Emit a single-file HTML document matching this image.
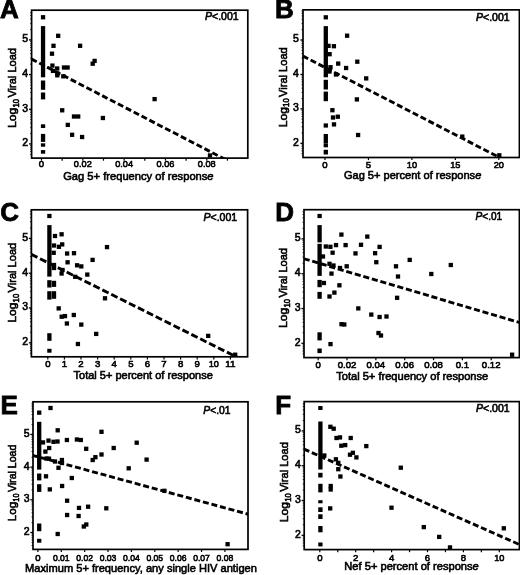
<!DOCTYPE html>
<html><head><meta charset="utf-8"><style>
html,body{margin:0;padding:0;background:#fff;overflow:hidden}
svg{display:block;will-change:transform}
text{font-family:"Liberation Sans", sans-serif;fill:#000;stroke:#000;stroke-width:0.6px}
.lt{stroke-width:0.8px}
</style></head><body>
<svg width="520" height="575" viewBox="0 0 520 575">
<rect x="56.05" y="33.65" width="4.3" height="4.3"/>
<rect x="51.35" y="43.65" width="4.3" height="4.3"/>
<rect x="77.95" y="43.65" width="4.3" height="4.3"/>
<rect x="49.85" y="51.55" width="4.3" height="4.3"/>
<rect x="92.45" y="58.75" width="4.3" height="4.3"/>
<rect x="90.55" y="61.55" width="4.3" height="4.3"/>
<rect x="50.25" y="63.45" width="4.3" height="4.3"/>
<rect x="55.05" y="66.35" width="4.3" height="4.3"/>
<rect x="50.85" y="68.75" width="4.3" height="4.3"/>
<rect x="55.15" y="71.35" width="4.3" height="4.3"/>
<rect x="55.15" y="73.15" width="4.3" height="4.3"/>
<rect x="61.85" y="65.35" width="4.3" height="4.3"/>
<rect x="65.45" y="65.35" width="4.3" height="4.3"/>
<rect x="61.15" y="74.15" width="4.3" height="4.3"/>
<rect x="60.05" y="108.15" width="4.3" height="4.3"/>
<rect x="71.85" y="114.35" width="4.3" height="4.3"/>
<rect x="76.05" y="114.35" width="4.3" height="4.3"/>
<rect x="65.65" y="122.75" width="4.3" height="4.3"/>
<rect x="100.75" y="115.85" width="4.3" height="4.3"/>
<rect x="69.95" y="132.65" width="4.3" height="4.3"/>
<rect x="79.95" y="134.85" width="4.3" height="4.3"/>
<rect x="152.45" y="96.95" width="4.3" height="4.3"/>
<rect x="207.85" y="153.35" width="4.3" height="4.3"/>
<rect x="40.9" y="15.1" width="4.3" height="4.3"/>
<rect x="40.9" y="26.1" width="4.3" height="51.2"/>
<rect x="40.9" y="80.5" width="4.3" height="9.3"/>
<rect x="40.9" y="92.5" width="4.3" height="6.9"/>
<rect x="40.9" y="124.3" width="4.3" height="3.7"/>
<rect x="40.9" y="133.9" width="4.3" height="8"/>
<rect x="40.9" y="143.3" width="4.3" height="3.4"/>
<rect x="40.9" y="150.1" width="4.3" height="3.6"/>
<line x1="31.6" y1="59.1" x2="250" y2="172.2" stroke="#000" stroke-width="2.9" stroke-dasharray="6.0 2.86" stroke-dashoffset="0.25" clip-path="url(#cA)"/>
<clipPath id="cA"><rect x="31.6" y="10.2" width="216.20000000000002" height="147.9"/></clipPath>
<rect x="31.6" y="10.2" width="216.2" height="147.9" fill="none" stroke="#000" stroke-width="1.7"/>
<line x1="29" y1="143.91" x2="31.6" y2="143.91" stroke="#000" stroke-width="1.3"/>
<text x="28.2" y="146.31" text-anchor="end" font-size="10.5">2</text>
<line x1="29" y1="109.24" x2="31.6" y2="109.24" stroke="#000" stroke-width="1.3"/>
<text x="28.2" y="111.64" text-anchor="end" font-size="10.5">3</text>
<line x1="29" y1="74.57" x2="31.6" y2="74.57" stroke="#000" stroke-width="1.3"/>
<text x="28.2" y="76.97" text-anchor="end" font-size="10.5">4</text>
<line x1="29" y1="39.9" x2="31.6" y2="39.9" stroke="#000" stroke-width="1.3"/>
<text x="28.2" y="42.3" text-anchor="end" font-size="10.5">5</text>
<line x1="30.1" y1="154.35" x2="31.6" y2="154.35" stroke="#000" stroke-width="0.8"/>
<line x1="30.1" y1="151.6" x2="31.6" y2="151.6" stroke="#000" stroke-width="0.8"/>
<line x1="30.1" y1="149.28" x2="31.6" y2="149.28" stroke="#000" stroke-width="0.8"/>
<line x1="30.1" y1="147.27" x2="31.6" y2="147.27" stroke="#000" stroke-width="0.8"/>
<line x1="30.1" y1="145.5" x2="31.6" y2="145.5" stroke="#000" stroke-width="0.8"/>
<line x1="30.1" y1="133.47" x2="31.6" y2="133.47" stroke="#000" stroke-width="0.8"/>
<line x1="30.1" y1="127.37" x2="31.6" y2="127.37" stroke="#000" stroke-width="0.8"/>
<line x1="30.1" y1="123.04" x2="31.6" y2="123.04" stroke="#000" stroke-width="0.8"/>
<line x1="30.1" y1="119.68" x2="31.6" y2="119.68" stroke="#000" stroke-width="0.8"/>
<line x1="30.1" y1="116.93" x2="31.6" y2="116.93" stroke="#000" stroke-width="0.8"/>
<line x1="30.1" y1="114.61" x2="31.6" y2="114.61" stroke="#000" stroke-width="0.8"/>
<line x1="30.1" y1="112.6" x2="31.6" y2="112.6" stroke="#000" stroke-width="0.8"/>
<line x1="30.1" y1="110.83" x2="31.6" y2="110.83" stroke="#000" stroke-width="0.8"/>
<line x1="30.1" y1="98.8" x2="31.6" y2="98.8" stroke="#000" stroke-width="0.8"/>
<line x1="30.1" y1="92.7" x2="31.6" y2="92.7" stroke="#000" stroke-width="0.8"/>
<line x1="30.1" y1="88.37" x2="31.6" y2="88.37" stroke="#000" stroke-width="0.8"/>
<line x1="30.1" y1="85.01" x2="31.6" y2="85.01" stroke="#000" stroke-width="0.8"/>
<line x1="30.1" y1="82.26" x2="31.6" y2="82.26" stroke="#000" stroke-width="0.8"/>
<line x1="30.1" y1="79.94" x2="31.6" y2="79.94" stroke="#000" stroke-width="0.8"/>
<line x1="30.1" y1="77.93" x2="31.6" y2="77.93" stroke="#000" stroke-width="0.8"/>
<line x1="30.1" y1="76.16" x2="31.6" y2="76.16" stroke="#000" stroke-width="0.8"/>
<line x1="30.1" y1="64.13" x2="31.6" y2="64.13" stroke="#000" stroke-width="0.8"/>
<line x1="30.1" y1="58.03" x2="31.6" y2="58.03" stroke="#000" stroke-width="0.8"/>
<line x1="30.1" y1="53.7" x2="31.6" y2="53.7" stroke="#000" stroke-width="0.8"/>
<line x1="30.1" y1="50.34" x2="31.6" y2="50.34" stroke="#000" stroke-width="0.8"/>
<line x1="30.1" y1="47.59" x2="31.6" y2="47.59" stroke="#000" stroke-width="0.8"/>
<line x1="30.1" y1="45.27" x2="31.6" y2="45.27" stroke="#000" stroke-width="0.8"/>
<line x1="30.1" y1="43.26" x2="31.6" y2="43.26" stroke="#000" stroke-width="0.8"/>
<line x1="30.1" y1="41.49" x2="31.6" y2="41.49" stroke="#000" stroke-width="0.8"/>
<line x1="30.1" y1="29.46" x2="31.6" y2="29.46" stroke="#000" stroke-width="0.8"/>
<line x1="30.1" y1="23.36" x2="31.6" y2="23.36" stroke="#000" stroke-width="0.8"/>
<line x1="30.1" y1="19.03" x2="31.6" y2="19.03" stroke="#000" stroke-width="0.8"/>
<line x1="30.1" y1="15.67" x2="31.6" y2="15.67" stroke="#000" stroke-width="0.8"/>
<line x1="30.1" y1="12.92" x2="31.6" y2="12.92" stroke="#000" stroke-width="0.8"/>
<line x1="41.5" y1="158.1" x2="41.5" y2="160.7" stroke="#000" stroke-width="1.2"/>
<line x1="62.16" y1="158.1" x2="62.16" y2="160.7" stroke="#000" stroke-width="1.2"/>
<line x1="82.82" y1="158.1" x2="82.82" y2="160.7" stroke="#000" stroke-width="1.2"/>
<line x1="103.48" y1="158.1" x2="103.48" y2="160.7" stroke="#000" stroke-width="1.2"/>
<line x1="124.14" y1="158.1" x2="124.14" y2="160.7" stroke="#000" stroke-width="1.2"/>
<line x1="144.8" y1="158.1" x2="144.8" y2="160.7" stroke="#000" stroke-width="1.2"/>
<line x1="165.46" y1="158.1" x2="165.46" y2="160.7" stroke="#000" stroke-width="1.2"/>
<line x1="186.12" y1="158.1" x2="186.12" y2="160.7" stroke="#000" stroke-width="1.2"/>
<line x1="206.78" y1="158.1" x2="206.78" y2="160.7" stroke="#000" stroke-width="1.2"/>
<line x1="227.44" y1="158.1" x2="227.44" y2="160.7" stroke="#000" stroke-width="1.2"/>
<text x="41.5" y="167" text-anchor="middle" font-size="9.6">0</text>
<text x="82.82" y="167" text-anchor="middle" font-size="9.6" textLength="17.93" lengthAdjust="spacingAndGlyphs">0.02</text>
<text x="124.14" y="167" text-anchor="middle" font-size="9.6" textLength="17.93" lengthAdjust="spacingAndGlyphs">0.04</text>
<text x="165.46" y="167" text-anchor="middle" font-size="9.6" textLength="17.93" lengthAdjust="spacingAndGlyphs">0.06</text>
<text x="206.78" y="167" text-anchor="middle" font-size="9.6" textLength="17.93" lengthAdjust="spacingAndGlyphs">0.08</text>
<text x="63.2" y="179.5" font-size="11" textLength="150.4" lengthAdjust="spacingAndGlyphs">Gag 5+ frequency of respons<tspan font-style="italic">e</tspan></text>
<g transform="translate(16,128) rotate(-90) scale(1,1)"><text x="0" y="0" font-size="11.6" textLength="20.2" lengthAdjust="spacingAndGlyphs">Log</text><text x="20.4" y="2.6" font-size="8.2" textLength="8.6" lengthAdjust="spacingAndGlyphs">10</text><text x="30.4" y="0" font-size="11.6" textLength="49.6" lengthAdjust="spacingAndGlyphs">Viral Load</text></g>
<text x="205" y="19.6" font-size="10.5"><tspan font-style="italic">P</tspan>&lt;.001</text>
<text x="0" y="18.2" font-size="26" font-weight="bold" class="lt">A</text>
<rect x="344.95" y="33.55" width="4.3" height="4.3"/>
<rect x="331.75" y="44.05" width="4.3" height="4.3"/>
<rect x="326.35" y="43.75" width="4.3" height="4.3"/>
<rect x="327.45" y="52.05" width="4.3" height="4.3"/>
<rect x="336.05" y="61.45" width="4.3" height="4.3"/>
<rect x="355.15" y="59.55" width="4.3" height="4.3"/>
<rect x="343.95" y="65.85" width="4.3" height="4.3"/>
<rect x="328.35" y="65.05" width="4.3" height="4.3"/>
<rect x="327.35" y="69.35" width="4.3" height="4.3"/>
<rect x="333.85" y="72.35" width="4.3" height="4.3"/>
<rect x="364.05" y="76.25" width="4.3" height="4.3"/>
<rect x="330.25" y="108.05" width="4.3" height="4.3"/>
<rect x="330.85" y="115.35" width="4.3" height="4.3"/>
<rect x="335.65" y="114.55" width="4.3" height="4.3"/>
<rect x="331.85" y="122.25" width="4.3" height="4.3"/>
<rect x="354.75" y="97.25" width="4.3" height="4.3"/>
<rect x="355.95" y="132.85" width="4.3" height="4.3"/>
<rect x="460.15" y="134.45" width="4.3" height="4.3"/>
<rect x="497.15" y="153.15" width="4.3" height="4.3"/>
<rect x="323.65" y="15.2" width="4.3" height="4.2"/>
<rect x="323.65" y="26.1" width="4.3" height="51.2"/>
<rect x="323.65" y="79.8" width="4.3" height="9.7"/>
<rect x="323.65" y="91.6" width="4.3" height="9.6"/>
<rect x="323.65" y="123.4" width="4.3" height="4.2"/>
<rect x="323.65" y="134" width="4.3" height="9.5"/>
<rect x="323.65" y="143.5" width="4.3" height="3.8"/>
<rect x="323.65" y="149.8" width="4.3" height="4.7"/>
<line x1="303" y1="56.1" x2="520" y2="168.1" stroke="#000" stroke-width="2.9" stroke-dasharray="6.0 2.84" stroke-dashoffset="0.25" clip-path="url(#cB)"/>
<clipPath id="cB"><rect x="303" y="9.85" width="216.39999999999998" height="147.65"/></clipPath>
<rect x="303" y="9.85" width="216.4" height="147.65" fill="none" stroke="#000" stroke-width="1.7"/>
<line x1="300.4" y1="143.29" x2="303" y2="143.29" stroke="#000" stroke-width="1.3"/>
<text x="298.8" y="145.69" text-anchor="end" font-size="10.5">2</text>
<line x1="300.4" y1="108.86" x2="303" y2="108.86" stroke="#000" stroke-width="1.3"/>
<text x="298.8" y="111.26" text-anchor="end" font-size="10.5">3</text>
<line x1="300.4" y1="74.43" x2="303" y2="74.43" stroke="#000" stroke-width="1.3"/>
<text x="298.8" y="76.83" text-anchor="end" font-size="10.5">4</text>
<line x1="300.4" y1="40" x2="303" y2="40" stroke="#000" stroke-width="1.3"/>
<text x="298.8" y="42.4" text-anchor="end" font-size="10.5">5</text>
<line x1="301.5" y1="153.65" x2="303" y2="153.65" stroke="#000" stroke-width="0.8"/>
<line x1="301.5" y1="150.93" x2="303" y2="150.93" stroke="#000" stroke-width="0.8"/>
<line x1="301.5" y1="148.62" x2="303" y2="148.62" stroke="#000" stroke-width="0.8"/>
<line x1="301.5" y1="146.63" x2="303" y2="146.63" stroke="#000" stroke-width="0.8"/>
<line x1="301.5" y1="144.87" x2="303" y2="144.87" stroke="#000" stroke-width="0.8"/>
<line x1="301.5" y1="132.93" x2="303" y2="132.93" stroke="#000" stroke-width="0.8"/>
<line x1="301.5" y1="126.86" x2="303" y2="126.86" stroke="#000" stroke-width="0.8"/>
<line x1="301.5" y1="122.56" x2="303" y2="122.56" stroke="#000" stroke-width="0.8"/>
<line x1="301.5" y1="119.22" x2="303" y2="119.22" stroke="#000" stroke-width="0.8"/>
<line x1="301.5" y1="116.5" x2="303" y2="116.5" stroke="#000" stroke-width="0.8"/>
<line x1="301.5" y1="114.19" x2="303" y2="114.19" stroke="#000" stroke-width="0.8"/>
<line x1="301.5" y1="112.2" x2="303" y2="112.2" stroke="#000" stroke-width="0.8"/>
<line x1="301.5" y1="110.44" x2="303" y2="110.44" stroke="#000" stroke-width="0.8"/>
<line x1="301.5" y1="98.5" x2="303" y2="98.5" stroke="#000" stroke-width="0.8"/>
<line x1="301.5" y1="92.43" x2="303" y2="92.43" stroke="#000" stroke-width="0.8"/>
<line x1="301.5" y1="88.13" x2="303" y2="88.13" stroke="#000" stroke-width="0.8"/>
<line x1="301.5" y1="84.79" x2="303" y2="84.79" stroke="#000" stroke-width="0.8"/>
<line x1="301.5" y1="82.07" x2="303" y2="82.07" stroke="#000" stroke-width="0.8"/>
<line x1="301.5" y1="79.76" x2="303" y2="79.76" stroke="#000" stroke-width="0.8"/>
<line x1="301.5" y1="77.77" x2="303" y2="77.77" stroke="#000" stroke-width="0.8"/>
<line x1="301.5" y1="76.01" x2="303" y2="76.01" stroke="#000" stroke-width="0.8"/>
<line x1="301.5" y1="64.07" x2="303" y2="64.07" stroke="#000" stroke-width="0.8"/>
<line x1="301.5" y1="58" x2="303" y2="58" stroke="#000" stroke-width="0.8"/>
<line x1="301.5" y1="53.7" x2="303" y2="53.7" stroke="#000" stroke-width="0.8"/>
<line x1="301.5" y1="50.36" x2="303" y2="50.36" stroke="#000" stroke-width="0.8"/>
<line x1="301.5" y1="47.64" x2="303" y2="47.64" stroke="#000" stroke-width="0.8"/>
<line x1="301.5" y1="45.33" x2="303" y2="45.33" stroke="#000" stroke-width="0.8"/>
<line x1="301.5" y1="43.34" x2="303" y2="43.34" stroke="#000" stroke-width="0.8"/>
<line x1="301.5" y1="41.58" x2="303" y2="41.58" stroke="#000" stroke-width="0.8"/>
<line x1="301.5" y1="29.64" x2="303" y2="29.64" stroke="#000" stroke-width="0.8"/>
<line x1="301.5" y1="23.57" x2="303" y2="23.57" stroke="#000" stroke-width="0.8"/>
<line x1="301.5" y1="19.27" x2="303" y2="19.27" stroke="#000" stroke-width="0.8"/>
<line x1="301.5" y1="15.93" x2="303" y2="15.93" stroke="#000" stroke-width="0.8"/>
<line x1="301.5" y1="13.21" x2="303" y2="13.21" stroke="#000" stroke-width="0.8"/>
<line x1="301.5" y1="10.9" x2="303" y2="10.9" stroke="#000" stroke-width="0.8"/>
<line x1="325" y1="157.5" x2="325" y2="160.1" stroke="#000" stroke-width="1.2"/>
<line x1="368.45" y1="157.5" x2="368.45" y2="160.1" stroke="#000" stroke-width="1.2"/>
<line x1="411.9" y1="157.5" x2="411.9" y2="160.1" stroke="#000" stroke-width="1.2"/>
<line x1="455.35" y1="157.5" x2="455.35" y2="160.1" stroke="#000" stroke-width="1.2"/>
<line x1="498.8" y1="157.5" x2="498.8" y2="160.1" stroke="#000" stroke-width="1.2"/>
<text x="325" y="167.8" text-anchor="middle" font-size="9.6">0</text>
<text x="368.45" y="167.8" text-anchor="middle" font-size="9.6">5</text>
<text x="411.9" y="167.8" text-anchor="middle" font-size="9.6" textLength="10.25" lengthAdjust="spacingAndGlyphs">10</text>
<text x="455.35" y="167.8" text-anchor="middle" font-size="9.6" textLength="10.25" lengthAdjust="spacingAndGlyphs">15</text>
<text x="498.8" y="167.8" text-anchor="middle" font-size="9.6" textLength="10.25" lengthAdjust="spacingAndGlyphs">20</text>
<text x="343.9" y="178.6" font-size="11" textLength="137.4" lengthAdjust="spacingAndGlyphs">Gag 5+ percent of respons<tspan font-style="italic">e</tspan></text>
<g transform="translate(286.5,127.3) rotate(-90) scale(1,1)"><text x="0" y="0" font-size="11.6" textLength="20.2" lengthAdjust="spacingAndGlyphs">Log</text><text x="20.4" y="2.6" font-size="8.2" textLength="8.6" lengthAdjust="spacingAndGlyphs">10</text><text x="30.4" y="0" font-size="11.6" textLength="49.6" lengthAdjust="spacingAndGlyphs">Viral Load</text></g>
<text x="476" y="21" font-size="10.5"><tspan font-style="italic">P</tspan>&lt;.001</text>
<text x="275" y="18.3" font-size="26" font-weight="bold" class="lt">B</text>
<rect x="52.85" y="233.85" width="4.3" height="4.3"/>
<rect x="59.45" y="232.15" width="4.3" height="4.3"/>
<rect x="51.85" y="243.35" width="4.3" height="4.3"/>
<rect x="56.75" y="244.65" width="4.3" height="4.3"/>
<rect x="60.05" y="242.25" width="4.3" height="4.3"/>
<rect x="51.55" y="250.65" width="4.3" height="4.3"/>
<rect x="64.95" y="251.35" width="4.3" height="4.3"/>
<rect x="71.85" y="251.05" width="4.3" height="4.3"/>
<rect x="65.45" y="260.15" width="4.3" height="4.3"/>
<rect x="74.95" y="263.15" width="4.3" height="4.3"/>
<rect x="79.15" y="264.25" width="4.3" height="4.3"/>
<rect x="51.85" y="262.85" width="4.3" height="4.3"/>
<rect x="51.85" y="265.85" width="4.3" height="4.3"/>
<rect x="60.35" y="267.85" width="4.3" height="4.3"/>
<rect x="59.45" y="271.35" width="4.3" height="4.3"/>
<rect x="85.15" y="272.45" width="4.3" height="4.3"/>
<rect x="104.85" y="244.95" width="4.3" height="4.3"/>
<rect x="90.45" y="257.75" width="4.3" height="4.3"/>
<rect x="102.85" y="296.15" width="4.3" height="4.3"/>
<rect x="56.55" y="306.25" width="4.3" height="4.3"/>
<rect x="59.55" y="314.55" width="4.3" height="4.3"/>
<rect x="62.85" y="313.95" width="4.3" height="4.3"/>
<rect x="71.65" y="312.85" width="4.3" height="4.3"/>
<rect x="64.75" y="321.35" width="4.3" height="4.3"/>
<rect x="79.15" y="322.45" width="4.3" height="4.3"/>
<rect x="94.05" y="331.75" width="4.3" height="4.3"/>
<rect x="75.75" y="341.85" width="4.3" height="4.3"/>
<rect x="206.05" y="333.75" width="4.3" height="4.3"/>
<rect x="233.05" y="352.55" width="4.3" height="4.3"/>
<rect x="73.05" y="274.65" width="4.3" height="4.3"/>
<rect x="47.25" y="213.9" width="4.3" height="4.2"/>
<rect x="47.25" y="225.1" width="4.3" height="51.5"/>
<rect x="47.25" y="280.2" width="4.3" height="7.3"/>
<rect x="47.25" y="291.2" width="4.3" height="8.4"/>
<rect x="47.25" y="333.2" width="4.3" height="7.6"/>
<rect x="47.25" y="348.8" width="4.3" height="3.9"/>
<rect x="51.85" y="280.8" width="4.3" height="6.1"/>
<rect x="51.85" y="291.2" width="4.3" height="7.6"/>
<line x1="31.3" y1="254.35" x2="250" y2="363.7" stroke="#000" stroke-width="2.9" stroke-dasharray="7.0 2.95" stroke-dashoffset="0.2" clip-path="url(#cC)"/>
<clipPath id="cC"><rect x="31.4" y="209.8" width="216.2" height="147.0"/></clipPath>
<rect x="31.4" y="209.8" width="216.2" height="147" fill="none" stroke="#000" stroke-width="1.7"/>
<line x1="28.8" y1="342.8" x2="31.4" y2="342.8" stroke="#000" stroke-width="1.3"/>
<text x="28" y="345.2" text-anchor="end" font-size="10.5">2</text>
<line x1="28.8" y1="308" x2="31.4" y2="308" stroke="#000" stroke-width="1.3"/>
<text x="28" y="310.4" text-anchor="end" font-size="10.5">3</text>
<line x1="28.8" y1="273.2" x2="31.4" y2="273.2" stroke="#000" stroke-width="1.3"/>
<text x="28" y="275.6" text-anchor="end" font-size="10.5">4</text>
<line x1="28.8" y1="238.4" x2="31.4" y2="238.4" stroke="#000" stroke-width="1.3"/>
<text x="28" y="240.8" text-anchor="end" font-size="10.5">5</text>
<line x1="29.9" y1="353.28" x2="31.4" y2="353.28" stroke="#000" stroke-width="0.8"/>
<line x1="29.9" y1="350.52" x2="31.4" y2="350.52" stroke="#000" stroke-width="0.8"/>
<line x1="29.9" y1="348.19" x2="31.4" y2="348.19" stroke="#000" stroke-width="0.8"/>
<line x1="29.9" y1="346.17" x2="31.4" y2="346.17" stroke="#000" stroke-width="0.8"/>
<line x1="29.9" y1="344.39" x2="31.4" y2="344.39" stroke="#000" stroke-width="0.8"/>
<line x1="29.9" y1="332.32" x2="31.4" y2="332.32" stroke="#000" stroke-width="0.8"/>
<line x1="29.9" y1="326.2" x2="31.4" y2="326.2" stroke="#000" stroke-width="0.8"/>
<line x1="29.9" y1="321.85" x2="31.4" y2="321.85" stroke="#000" stroke-width="0.8"/>
<line x1="29.9" y1="318.48" x2="31.4" y2="318.48" stroke="#000" stroke-width="0.8"/>
<line x1="29.9" y1="315.72" x2="31.4" y2="315.72" stroke="#000" stroke-width="0.8"/>
<line x1="29.9" y1="313.39" x2="31.4" y2="313.39" stroke="#000" stroke-width="0.8"/>
<line x1="29.9" y1="311.37" x2="31.4" y2="311.37" stroke="#000" stroke-width="0.8"/>
<line x1="29.9" y1="309.59" x2="31.4" y2="309.59" stroke="#000" stroke-width="0.8"/>
<line x1="29.9" y1="297.52" x2="31.4" y2="297.52" stroke="#000" stroke-width="0.8"/>
<line x1="29.9" y1="291.4" x2="31.4" y2="291.4" stroke="#000" stroke-width="0.8"/>
<line x1="29.9" y1="287.05" x2="31.4" y2="287.05" stroke="#000" stroke-width="0.8"/>
<line x1="29.9" y1="283.68" x2="31.4" y2="283.68" stroke="#000" stroke-width="0.8"/>
<line x1="29.9" y1="280.92" x2="31.4" y2="280.92" stroke="#000" stroke-width="0.8"/>
<line x1="29.9" y1="278.59" x2="31.4" y2="278.59" stroke="#000" stroke-width="0.8"/>
<line x1="29.9" y1="276.57" x2="31.4" y2="276.57" stroke="#000" stroke-width="0.8"/>
<line x1="29.9" y1="274.79" x2="31.4" y2="274.79" stroke="#000" stroke-width="0.8"/>
<line x1="29.9" y1="262.72" x2="31.4" y2="262.72" stroke="#000" stroke-width="0.8"/>
<line x1="29.9" y1="256.6" x2="31.4" y2="256.6" stroke="#000" stroke-width="0.8"/>
<line x1="29.9" y1="252.25" x2="31.4" y2="252.25" stroke="#000" stroke-width="0.8"/>
<line x1="29.9" y1="248.88" x2="31.4" y2="248.88" stroke="#000" stroke-width="0.8"/>
<line x1="29.9" y1="246.12" x2="31.4" y2="246.12" stroke="#000" stroke-width="0.8"/>
<line x1="29.9" y1="243.79" x2="31.4" y2="243.79" stroke="#000" stroke-width="0.8"/>
<line x1="29.9" y1="241.77" x2="31.4" y2="241.77" stroke="#000" stroke-width="0.8"/>
<line x1="29.9" y1="239.99" x2="31.4" y2="239.99" stroke="#000" stroke-width="0.8"/>
<line x1="29.9" y1="227.92" x2="31.4" y2="227.92" stroke="#000" stroke-width="0.8"/>
<line x1="29.9" y1="221.8" x2="31.4" y2="221.8" stroke="#000" stroke-width="0.8"/>
<line x1="29.9" y1="217.45" x2="31.4" y2="217.45" stroke="#000" stroke-width="0.8"/>
<line x1="29.9" y1="214.08" x2="31.4" y2="214.08" stroke="#000" stroke-width="0.8"/>
<line x1="29.9" y1="211.32" x2="31.4" y2="211.32" stroke="#000" stroke-width="0.8"/>
<line x1="47.8" y1="356.8" x2="47.8" y2="359.4" stroke="#000" stroke-width="1.2"/>
<line x1="64.4" y1="356.8" x2="64.4" y2="359.4" stroke="#000" stroke-width="1.2"/>
<line x1="81" y1="356.8" x2="81" y2="359.4" stroke="#000" stroke-width="1.2"/>
<line x1="97.6" y1="356.8" x2="97.6" y2="359.4" stroke="#000" stroke-width="1.2"/>
<line x1="114.2" y1="356.8" x2="114.2" y2="359.4" stroke="#000" stroke-width="1.2"/>
<line x1="130.8" y1="356.8" x2="130.8" y2="359.4" stroke="#000" stroke-width="1.2"/>
<line x1="147.4" y1="356.8" x2="147.4" y2="359.4" stroke="#000" stroke-width="1.2"/>
<line x1="164" y1="356.8" x2="164" y2="359.4" stroke="#000" stroke-width="1.2"/>
<line x1="180.6" y1="356.8" x2="180.6" y2="359.4" stroke="#000" stroke-width="1.2"/>
<line x1="197.2" y1="356.8" x2="197.2" y2="359.4" stroke="#000" stroke-width="1.2"/>
<line x1="213.8" y1="356.8" x2="213.8" y2="359.4" stroke="#000" stroke-width="1.2"/>
<line x1="230.4" y1="356.8" x2="230.4" y2="359.4" stroke="#000" stroke-width="1.2"/>
<text x="47.8" y="366.9" text-anchor="middle" font-size="9.6">0</text>
<text x="64.4" y="366.9" text-anchor="middle" font-size="9.6">1</text>
<text x="81" y="366.9" text-anchor="middle" font-size="9.6">2</text>
<text x="97.6" y="366.9" text-anchor="middle" font-size="9.6">3</text>
<text x="114.2" y="366.9" text-anchor="middle" font-size="9.6">4</text>
<text x="130.8" y="366.9" text-anchor="middle" font-size="9.6">5</text>
<text x="147.4" y="366.9" text-anchor="middle" font-size="9.6">6</text>
<text x="164" y="366.9" text-anchor="middle" font-size="9.6">7</text>
<text x="180.6" y="366.9" text-anchor="middle" font-size="9.6">8</text>
<text x="197.2" y="366.9" text-anchor="middle" font-size="9.6">9</text>
<text x="213.8" y="366.9" text-anchor="middle" font-size="9.6" textLength="10.25" lengthAdjust="spacingAndGlyphs">10</text>
<text x="230.4" y="366.9" text-anchor="middle" font-size="9.6" textLength="10.25" lengthAdjust="spacingAndGlyphs">11</text>
<text x="73.5" y="378.6" font-size="11" textLength="139.3" lengthAdjust="spacingAndGlyphs">Total 5+ percent of response</text>
<g transform="translate(16,322.8) rotate(-90) scale(1,1)"><text x="0" y="0" font-size="11.6" textLength="20.2" lengthAdjust="spacingAndGlyphs">Log</text><text x="20.4" y="2.6" font-size="8.2" textLength="8.6" lengthAdjust="spacingAndGlyphs">10</text><text x="30.4" y="0" font-size="11.6" textLength="49.6" lengthAdjust="spacingAndGlyphs">Viral Load</text></g>
<text x="203.5" y="220.5" font-size="10.5"><tspan font-style="italic">P</tspan>&lt;.001</text>
<text x="0.3" y="221" font-size="26" font-weight="bold" class="lt">C</text>
<rect x="339.25" y="232.45" width="4.3" height="4.3"/>
<rect x="365.15" y="234.45" width="4.3" height="4.3"/>
<rect x="323.65" y="244.35" width="4.3" height="4.3"/>
<rect x="328.25" y="244.65" width="4.3" height="4.3"/>
<rect x="333.85" y="242.95" width="4.3" height="4.3"/>
<rect x="343.45" y="242.95" width="4.3" height="4.3"/>
<rect x="358.85" y="242.65" width="4.3" height="4.3"/>
<rect x="377.45" y="244.75" width="4.3" height="4.3"/>
<rect x="330.45" y="250.55" width="4.3" height="4.3"/>
<rect x="353.35" y="251.25" width="4.3" height="4.3"/>
<rect x="372.95" y="251.05" width="4.3" height="4.3"/>
<rect x="320.85" y="254.35" width="4.3" height="4.3"/>
<rect x="374.15" y="260.05" width="4.3" height="4.3"/>
<rect x="407.55" y="257.75" width="4.3" height="4.3"/>
<rect x="393.85" y="264.15" width="4.3" height="4.3"/>
<rect x="327.35" y="261.65" width="4.3" height="4.3"/>
<rect x="331.35" y="263.35" width="4.3" height="4.3"/>
<rect x="337.85" y="265.85" width="4.3" height="4.3"/>
<rect x="344.55" y="264.15" width="4.3" height="4.3"/>
<rect x="329.35" y="271.45" width="4.3" height="4.3"/>
<rect x="395.85" y="274.35" width="4.3" height="4.3"/>
<rect x="321.75" y="280.85" width="4.3" height="4.3"/>
<rect x="337.25" y="283.15" width="4.3" height="4.3"/>
<rect x="327.35" y="294.35" width="4.3" height="4.3"/>
<rect x="332.25" y="290.45" width="4.3" height="4.3"/>
<rect x="394.95" y="295.65" width="4.3" height="4.3"/>
<rect x="356.15" y="306.25" width="4.3" height="4.3"/>
<rect x="369.15" y="312.45" width="4.3" height="4.3"/>
<rect x="377.45" y="314.85" width="4.3" height="4.3"/>
<rect x="384.35" y="314.35" width="4.3" height="4.3"/>
<rect x="339.35" y="322.05" width="4.3" height="4.3"/>
<rect x="342.15" y="322.35" width="4.3" height="4.3"/>
<rect x="376.35" y="330.85" width="4.3" height="4.3"/>
<rect x="378.85" y="333.35" width="4.3" height="4.3"/>
<rect x="328.35" y="341.95" width="4.3" height="4.3"/>
<rect x="429.15" y="271.85" width="4.3" height="4.3"/>
<rect x="448.65" y="262.85" width="4.3" height="4.3"/>
<rect x="509.95" y="352.55" width="4.3" height="4.3"/>
<rect x="317.45" y="213.9" width="4.3" height="4.2"/>
<rect x="317.45" y="225.1" width="4.3" height="17.3"/>
<rect x="317.45" y="243.8" width="4.3" height="32.1"/>
<rect x="317.45" y="279.9" width="4.3" height="7.3"/>
<rect x="317.45" y="291.9" width="4.3" height="6.9"/>
<rect x="317.45" y="332.3" width="4.3" height="8.1"/>
<rect x="317.45" y="348.5" width="4.3" height="4.6"/>
<line x1="304" y1="258.8" x2="520" y2="322.7" stroke="#000" stroke-width="2.9" stroke-dasharray="6.1 2.78" stroke-dashoffset="0.3" clip-path="url(#cD)"/>
<clipPath id="cD"><rect x="304" y="209.7" width="215.39999999999998" height="147.90000000000003"/></clipPath>
<rect x="304" y="209.7" width="215.4" height="147.9" fill="none" stroke="#000" stroke-width="1.7"/>
<line x1="301.4" y1="343.3" x2="304" y2="343.3" stroke="#000" stroke-width="1.3"/>
<text x="300.6" y="345.7" text-anchor="end" font-size="10.5">2</text>
<line x1="301.4" y1="308.5" x2="304" y2="308.5" stroke="#000" stroke-width="1.3"/>
<text x="300.6" y="310.9" text-anchor="end" font-size="10.5">3</text>
<line x1="301.4" y1="273.7" x2="304" y2="273.7" stroke="#000" stroke-width="1.3"/>
<text x="300.6" y="276.1" text-anchor="end" font-size="10.5">4</text>
<line x1="301.4" y1="238.9" x2="304" y2="238.9" stroke="#000" stroke-width="1.3"/>
<text x="300.6" y="241.3" text-anchor="end" font-size="10.5">5</text>
<line x1="302.5" y1="353.78" x2="304" y2="353.78" stroke="#000" stroke-width="0.8"/>
<line x1="302.5" y1="351.02" x2="304" y2="351.02" stroke="#000" stroke-width="0.8"/>
<line x1="302.5" y1="348.69" x2="304" y2="348.69" stroke="#000" stroke-width="0.8"/>
<line x1="302.5" y1="346.67" x2="304" y2="346.67" stroke="#000" stroke-width="0.8"/>
<line x1="302.5" y1="344.89" x2="304" y2="344.89" stroke="#000" stroke-width="0.8"/>
<line x1="302.5" y1="332.82" x2="304" y2="332.82" stroke="#000" stroke-width="0.8"/>
<line x1="302.5" y1="326.7" x2="304" y2="326.7" stroke="#000" stroke-width="0.8"/>
<line x1="302.5" y1="322.35" x2="304" y2="322.35" stroke="#000" stroke-width="0.8"/>
<line x1="302.5" y1="318.98" x2="304" y2="318.98" stroke="#000" stroke-width="0.8"/>
<line x1="302.5" y1="316.22" x2="304" y2="316.22" stroke="#000" stroke-width="0.8"/>
<line x1="302.5" y1="313.89" x2="304" y2="313.89" stroke="#000" stroke-width="0.8"/>
<line x1="302.5" y1="311.87" x2="304" y2="311.87" stroke="#000" stroke-width="0.8"/>
<line x1="302.5" y1="310.09" x2="304" y2="310.09" stroke="#000" stroke-width="0.8"/>
<line x1="302.5" y1="298.02" x2="304" y2="298.02" stroke="#000" stroke-width="0.8"/>
<line x1="302.5" y1="291.9" x2="304" y2="291.9" stroke="#000" stroke-width="0.8"/>
<line x1="302.5" y1="287.55" x2="304" y2="287.55" stroke="#000" stroke-width="0.8"/>
<line x1="302.5" y1="284.18" x2="304" y2="284.18" stroke="#000" stroke-width="0.8"/>
<line x1="302.5" y1="281.42" x2="304" y2="281.42" stroke="#000" stroke-width="0.8"/>
<line x1="302.5" y1="279.09" x2="304" y2="279.09" stroke="#000" stroke-width="0.8"/>
<line x1="302.5" y1="277.07" x2="304" y2="277.07" stroke="#000" stroke-width="0.8"/>
<line x1="302.5" y1="275.29" x2="304" y2="275.29" stroke="#000" stroke-width="0.8"/>
<line x1="302.5" y1="263.22" x2="304" y2="263.22" stroke="#000" stroke-width="0.8"/>
<line x1="302.5" y1="257.1" x2="304" y2="257.1" stroke="#000" stroke-width="0.8"/>
<line x1="302.5" y1="252.75" x2="304" y2="252.75" stroke="#000" stroke-width="0.8"/>
<line x1="302.5" y1="249.38" x2="304" y2="249.38" stroke="#000" stroke-width="0.8"/>
<line x1="302.5" y1="246.62" x2="304" y2="246.62" stroke="#000" stroke-width="0.8"/>
<line x1="302.5" y1="244.29" x2="304" y2="244.29" stroke="#000" stroke-width="0.8"/>
<line x1="302.5" y1="242.27" x2="304" y2="242.27" stroke="#000" stroke-width="0.8"/>
<line x1="302.5" y1="240.49" x2="304" y2="240.49" stroke="#000" stroke-width="0.8"/>
<line x1="302.5" y1="228.42" x2="304" y2="228.42" stroke="#000" stroke-width="0.8"/>
<line x1="302.5" y1="222.3" x2="304" y2="222.3" stroke="#000" stroke-width="0.8"/>
<line x1="302.5" y1="217.95" x2="304" y2="217.95" stroke="#000" stroke-width="0.8"/>
<line x1="302.5" y1="214.58" x2="304" y2="214.58" stroke="#000" stroke-width="0.8"/>
<line x1="302.5" y1="211.82" x2="304" y2="211.82" stroke="#000" stroke-width="0.8"/>
<line x1="318.2" y1="357.6" x2="318.2" y2="360.2" stroke="#000" stroke-width="1.2"/>
<line x1="347.03" y1="357.6" x2="347.03" y2="360.2" stroke="#000" stroke-width="1.2"/>
<line x1="375.87" y1="357.6" x2="375.87" y2="360.2" stroke="#000" stroke-width="1.2"/>
<line x1="404.7" y1="357.6" x2="404.7" y2="360.2" stroke="#000" stroke-width="1.2"/>
<line x1="433.54" y1="357.6" x2="433.54" y2="360.2" stroke="#000" stroke-width="1.2"/>
<line x1="462.37" y1="357.6" x2="462.37" y2="360.2" stroke="#000" stroke-width="1.2"/>
<line x1="491.2" y1="357.6" x2="491.2" y2="360.2" stroke="#000" stroke-width="1.2"/>
<text x="318.2" y="367.6" text-anchor="middle" font-size="9.6">0</text>
<text x="347.03" y="367.6" text-anchor="middle" font-size="9.6" textLength="18.68" lengthAdjust="spacingAndGlyphs">0.02</text>
<text x="375.87" y="367.6" text-anchor="middle" font-size="9.6" textLength="18.68" lengthAdjust="spacingAndGlyphs">0.04</text>
<text x="404.7" y="367.6" text-anchor="middle" font-size="9.6" textLength="18.68" lengthAdjust="spacingAndGlyphs">0.06</text>
<text x="433.54" y="367.6" text-anchor="middle" font-size="9.6" textLength="18.68" lengthAdjust="spacingAndGlyphs">0.08</text>
<text x="462.37" y="367.6" text-anchor="middle" font-size="9.6" textLength="13.34" lengthAdjust="spacingAndGlyphs">0.1</text>
<text x="491.2" y="367.6" text-anchor="middle" font-size="9.6" textLength="18.68" lengthAdjust="spacingAndGlyphs">0.12</text>
<text x="336.2" y="380.2" font-size="11" textLength="152" lengthAdjust="spacingAndGlyphs">Total 5+ frequency of response</text>
<g transform="translate(287,328) rotate(-90) scale(1,1)"><text x="0" y="0" font-size="11.6" textLength="20.2" lengthAdjust="spacingAndGlyphs">Log</text><text x="20.4" y="2.6" font-size="8.2" textLength="8.6" lengthAdjust="spacingAndGlyphs">10</text><text x="30.4" y="0" font-size="11.6" textLength="49.6" lengthAdjust="spacingAndGlyphs">Viral Load</text></g>
<text x="475.6" y="220" font-size="10.5" textLength="26.6" lengthAdjust="spacingAndGlyphs"><tspan font-style="italic">P</tspan>&lt;.01</text>
<text x="275.2" y="220.9" font-size="26" font-weight="bold" class="lt">D</text>
<rect x="48.35" y="405.85" width="4.3" height="4.3"/>
<rect x="55.55" y="428.15" width="4.3" height="4.3"/>
<rect x="99.35" y="429.65" width="4.3" height="4.3"/>
<rect x="64.75" y="437.85" width="4.3" height="4.3"/>
<rect x="74.75" y="437.35" width="4.3" height="4.3"/>
<rect x="78.65" y="437.85" width="4.3" height="4.3"/>
<rect x="46.35" y="438.45" width="4.3" height="4.3"/>
<rect x="51.35" y="439.65" width="4.3" height="4.3"/>
<rect x="55.35" y="439.35" width="4.3" height="4.3"/>
<rect x="40.85" y="440.25" width="4.3" height="4.3"/>
<rect x="47.05" y="445.85" width="4.3" height="4.3"/>
<rect x="43.25" y="449.45" width="4.3" height="4.3"/>
<rect x="84.05" y="446.65" width="4.3" height="4.3"/>
<rect x="99.35" y="452.35" width="4.3" height="4.3"/>
<rect x="90.55" y="457.85" width="4.3" height="4.3"/>
<rect x="93.25" y="455.05" width="4.3" height="4.3"/>
<rect x="44.35" y="456.35" width="4.3" height="4.3"/>
<rect x="46.85" y="456.55" width="4.3" height="4.3"/>
<rect x="52.85" y="459.35" width="4.3" height="4.3"/>
<rect x="59.75" y="457.85" width="4.3" height="4.3"/>
<rect x="59.85" y="460.85" width="4.3" height="4.3"/>
<rect x="56.35" y="465.65" width="4.3" height="4.3"/>
<rect x="43.85" y="474.15" width="4.3" height="4.3"/>
<rect x="111.55" y="445.85" width="4.3" height="4.3"/>
<rect x="134.55" y="440.55" width="4.3" height="4.3"/>
<rect x="144.45" y="457.45" width="4.3" height="4.3"/>
<rect x="126.55" y="466.15" width="4.3" height="4.3"/>
<rect x="104.15" y="506.15" width="4.3" height="4.3"/>
<rect x="162.25" y="488.65" width="4.3" height="4.3"/>
<rect x="225.45" y="542.05" width="4.3" height="4.3"/>
<rect x="69.65" y="475.85" width="4.3" height="4.3"/>
<rect x="59.95" y="483.85" width="4.3" height="4.3"/>
<rect x="47.65" y="487.25" width="4.3" height="4.3"/>
<rect x="64.95" y="498.55" width="4.3" height="4.3"/>
<rect x="76.85" y="505.75" width="4.3" height="4.3"/>
<rect x="85.95" y="504.55" width="4.3" height="4.3"/>
<rect x="64.95" y="512.85" width="4.3" height="4.3"/>
<rect x="76.45" y="513.85" width="4.3" height="4.3"/>
<rect x="81.65" y="524.35" width="4.3" height="4.3"/>
<rect x="84.15" y="522.35" width="4.3" height="4.3"/>
<rect x="55.55" y="531.85" width="4.3" height="4.3"/>
<rect x="37.05" y="410.5" width="4.3" height="4.3"/>
<rect x="37.05" y="421.8" width="4.3" height="47.8"/>
<rect x="37.05" y="473.5" width="4.3" height="6.9"/>
<rect x="37.05" y="484.2" width="4.3" height="7.7"/>
<rect x="37.05" y="523.5" width="4.3" height="7.7"/>
<rect x="37.05" y="538.8" width="4.3" height="3.9"/>
<line x1="32.6" y1="455.3" x2="250" y2="514.7" stroke="#000" stroke-width="2.9" stroke-dasharray="6.0 2.84" stroke-dashoffset="0.25" clip-path="url(#cE)"/>
<clipPath id="cE"><rect x="33" y="401.8" width="215" height="147.59999999999997"/></clipPath>
<rect x="33" y="401.8" width="215" height="147.6" fill="none" stroke="#000" stroke-width="1.7"/>
<line x1="30.4" y1="532.5" x2="33" y2="532.5" stroke="#000" stroke-width="1.3"/>
<text x="29.6" y="534.9" text-anchor="end" font-size="10.5">2</text>
<line x1="30.4" y1="499.8" x2="33" y2="499.8" stroke="#000" stroke-width="1.3"/>
<text x="29.6" y="502.2" text-anchor="end" font-size="10.5">3</text>
<line x1="30.4" y1="467.1" x2="33" y2="467.1" stroke="#000" stroke-width="1.3"/>
<text x="29.6" y="469.5" text-anchor="end" font-size="10.5">4</text>
<line x1="30.4" y1="434.4" x2="33" y2="434.4" stroke="#000" stroke-width="1.3"/>
<text x="29.6" y="436.8" text-anchor="end" font-size="10.5">5</text>
<line x1="31.5" y1="545.51" x2="33" y2="545.51" stroke="#000" stroke-width="0.8"/>
<line x1="31.5" y1="542.34" x2="33" y2="542.34" stroke="#000" stroke-width="0.8"/>
<line x1="31.5" y1="539.75" x2="33" y2="539.75" stroke="#000" stroke-width="0.8"/>
<line x1="31.5" y1="537.57" x2="33" y2="537.57" stroke="#000" stroke-width="0.8"/>
<line x1="31.5" y1="535.67" x2="33" y2="535.67" stroke="#000" stroke-width="0.8"/>
<line x1="31.5" y1="534" x2="33" y2="534" stroke="#000" stroke-width="0.8"/>
<line x1="31.5" y1="522.66" x2="33" y2="522.66" stroke="#000" stroke-width="0.8"/>
<line x1="31.5" y1="516.9" x2="33" y2="516.9" stroke="#000" stroke-width="0.8"/>
<line x1="31.5" y1="512.81" x2="33" y2="512.81" stroke="#000" stroke-width="0.8"/>
<line x1="31.5" y1="509.64" x2="33" y2="509.64" stroke="#000" stroke-width="0.8"/>
<line x1="31.5" y1="507.05" x2="33" y2="507.05" stroke="#000" stroke-width="0.8"/>
<line x1="31.5" y1="504.87" x2="33" y2="504.87" stroke="#000" stroke-width="0.8"/>
<line x1="31.5" y1="502.97" x2="33" y2="502.97" stroke="#000" stroke-width="0.8"/>
<line x1="31.5" y1="501.3" x2="33" y2="501.3" stroke="#000" stroke-width="0.8"/>
<line x1="31.5" y1="489.96" x2="33" y2="489.96" stroke="#000" stroke-width="0.8"/>
<line x1="31.5" y1="484.2" x2="33" y2="484.2" stroke="#000" stroke-width="0.8"/>
<line x1="31.5" y1="480.11" x2="33" y2="480.11" stroke="#000" stroke-width="0.8"/>
<line x1="31.5" y1="476.94" x2="33" y2="476.94" stroke="#000" stroke-width="0.8"/>
<line x1="31.5" y1="474.35" x2="33" y2="474.35" stroke="#000" stroke-width="0.8"/>
<line x1="31.5" y1="472.17" x2="33" y2="472.17" stroke="#000" stroke-width="0.8"/>
<line x1="31.5" y1="470.27" x2="33" y2="470.27" stroke="#000" stroke-width="0.8"/>
<line x1="31.5" y1="468.6" x2="33" y2="468.6" stroke="#000" stroke-width="0.8"/>
<line x1="31.5" y1="457.26" x2="33" y2="457.26" stroke="#000" stroke-width="0.8"/>
<line x1="31.5" y1="451.5" x2="33" y2="451.5" stroke="#000" stroke-width="0.8"/>
<line x1="31.5" y1="447.41" x2="33" y2="447.41" stroke="#000" stroke-width="0.8"/>
<line x1="31.5" y1="444.24" x2="33" y2="444.24" stroke="#000" stroke-width="0.8"/>
<line x1="31.5" y1="441.65" x2="33" y2="441.65" stroke="#000" stroke-width="0.8"/>
<line x1="31.5" y1="439.47" x2="33" y2="439.47" stroke="#000" stroke-width="0.8"/>
<line x1="31.5" y1="437.57" x2="33" y2="437.57" stroke="#000" stroke-width="0.8"/>
<line x1="31.5" y1="435.9" x2="33" y2="435.9" stroke="#000" stroke-width="0.8"/>
<line x1="31.5" y1="424.56" x2="33" y2="424.56" stroke="#000" stroke-width="0.8"/>
<line x1="31.5" y1="418.8" x2="33" y2="418.8" stroke="#000" stroke-width="0.8"/>
<line x1="31.5" y1="414.71" x2="33" y2="414.71" stroke="#000" stroke-width="0.8"/>
<line x1="31.5" y1="411.54" x2="33" y2="411.54" stroke="#000" stroke-width="0.8"/>
<line x1="31.5" y1="408.95" x2="33" y2="408.95" stroke="#000" stroke-width="0.8"/>
<line x1="31.5" y1="406.77" x2="33" y2="406.77" stroke="#000" stroke-width="0.8"/>
<line x1="31.5" y1="404.87" x2="33" y2="404.87" stroke="#000" stroke-width="0.8"/>
<line x1="31.5" y1="403.2" x2="33" y2="403.2" stroke="#000" stroke-width="0.8"/>
<line x1="37.9" y1="549.4" x2="37.9" y2="552" stroke="#000" stroke-width="1.2"/>
<line x1="61.28" y1="549.4" x2="61.28" y2="552" stroke="#000" stroke-width="1.2"/>
<line x1="84.65" y1="549.4" x2="84.65" y2="552" stroke="#000" stroke-width="1.2"/>
<line x1="108.03" y1="549.4" x2="108.03" y2="552" stroke="#000" stroke-width="1.2"/>
<line x1="131.4" y1="549.4" x2="131.4" y2="552" stroke="#000" stroke-width="1.2"/>
<line x1="154.78" y1="549.4" x2="154.78" y2="552" stroke="#000" stroke-width="1.2"/>
<line x1="178.16" y1="549.4" x2="178.16" y2="552" stroke="#000" stroke-width="1.2"/>
<line x1="201.53" y1="549.4" x2="201.53" y2="552" stroke="#000" stroke-width="1.2"/>
<line x1="224.91" y1="549.4" x2="224.91" y2="552" stroke="#000" stroke-width="1.2"/>
<text x="37.9" y="560.9" text-anchor="middle" font-size="9.6">0</text>
<text x="61.28" y="560.9" text-anchor="middle" font-size="9.6" textLength="16.81" lengthAdjust="spacingAndGlyphs">0.01</text>
<text x="84.65" y="560.9" text-anchor="middle" font-size="9.6" textLength="16.81" lengthAdjust="spacingAndGlyphs">0.02</text>
<text x="108.03" y="560.9" text-anchor="middle" font-size="9.6" textLength="16.81" lengthAdjust="spacingAndGlyphs">0.03</text>
<text x="131.4" y="560.9" text-anchor="middle" font-size="9.6" textLength="16.81" lengthAdjust="spacingAndGlyphs">0.04</text>
<text x="154.78" y="560.9" text-anchor="middle" font-size="9.6" textLength="16.81" lengthAdjust="spacingAndGlyphs">0.05</text>
<text x="178.16" y="560.9" text-anchor="middle" font-size="9.6" textLength="16.81" lengthAdjust="spacingAndGlyphs">0.06</text>
<text x="201.53" y="560.9" text-anchor="middle" font-size="9.6" textLength="16.81" lengthAdjust="spacingAndGlyphs">0.07</text>
<text x="224.91" y="560.9" text-anchor="middle" font-size="9.6" textLength="16.81" lengthAdjust="spacingAndGlyphs">0.08</text>
<text x="25.1" y="572.3" font-size="11" textLength="231.8" lengthAdjust="spacingAndGlyphs">Maximum 5+ frequency, any single HIV antigen</text>
<g transform="translate(16.3,521.2) rotate(-90) scale(0.957,1)"><text x="0" y="0" font-size="11.6" textLength="20.2" lengthAdjust="spacingAndGlyphs">Log</text><text x="20.4" y="2.6" font-size="8.2" textLength="8.6" lengthAdjust="spacingAndGlyphs">10</text><text x="30.4" y="0" font-size="11.6" textLength="49.6" lengthAdjust="spacingAndGlyphs">Viral Load</text></g>
<text x="203.3" y="413.9" font-size="10.5" textLength="27.2" lengthAdjust="spacingAndGlyphs"><tspan font-style="italic">P</tspan>&lt;.01</text>
<text x="0.5" y="413.6" font-size="26" font-weight="bold" class="lt">E</text>
<rect x="328.25" y="424.65" width="4.3" height="4.3"/>
<rect x="331.55" y="426.55" width="4.3" height="4.3"/>
<rect x="334.35" y="435.85" width="4.3" height="4.3"/>
<rect x="337.85" y="435.25" width="4.3" height="4.3"/>
<rect x="348.55" y="435.85" width="4.3" height="4.3"/>
<rect x="339.15" y="443.55" width="4.3" height="4.3"/>
<rect x="343.05" y="442.95" width="4.3" height="4.3"/>
<rect x="364.15" y="443.95" width="4.3" height="4.3"/>
<rect x="347.85" y="452.55" width="4.3" height="4.3"/>
<rect x="350.75" y="450.65" width="4.3" height="4.3"/>
<rect x="354.25" y="455.25" width="4.3" height="4.3"/>
<rect x="322.15" y="453.35" width="4.3" height="4.3"/>
<rect x="333.75" y="457.15" width="4.3" height="4.3"/>
<rect x="336.15" y="460.75" width="4.3" height="4.3"/>
<rect x="336.15" y="467.05" width="4.3" height="4.3"/>
<rect x="338.25" y="474.35" width="4.3" height="4.3"/>
<rect x="328.55" y="483.85" width="4.3" height="4.3"/>
<rect x="328.55" y="487.35" width="4.3" height="4.3"/>
<rect x="328.05" y="506.25" width="4.3" height="4.3"/>
<rect x="398.65" y="465.55" width="4.3" height="4.3"/>
<rect x="389.35" y="505.55" width="4.3" height="4.3"/>
<rect x="421.65" y="524.95" width="4.3" height="4.3"/>
<rect x="437.05" y="534.75" width="4.3" height="4.3"/>
<rect x="447.85" y="545.25" width="4.3" height="4.3"/>
<rect x="501.65" y="526.15" width="4.3" height="4.3"/>
<rect x="318.25" y="406" width="4.3" height="4"/>
<rect x="318.25" y="421.5" width="4.3" height="48"/>
<rect x="318.25" y="472.8" width="4.3" height="4.7"/>
<rect x="318.25" y="483.8" width="4.3" height="8.6"/>
<rect x="318.25" y="500.2" width="4.3" height="3.1"/>
<rect x="318.25" y="507.3" width="4.3" height="4.7"/>
<rect x="318.25" y="514.3" width="4.3" height="4.7"/>
<rect x="318.25" y="526" width="4.3" height="6.3"/>
<rect x="318.25" y="542.5" width="4.3" height="3.9"/>
<line x1="304" y1="449.1" x2="520" y2="544.8" stroke="#000" stroke-width="2.9" stroke-dasharray="6.0 2.81" stroke-dashoffset="0.25" clip-path="url(#cF)"/>
<clipPath id="cF"><rect x="304.2" y="401.6" width="215.2" height="148.0"/></clipPath>
<rect x="304.2" y="401.6" width="215.2" height="148" fill="none" stroke="#000" stroke-width="1.7"/>
<line x1="301.6" y1="535.3" x2="304.2" y2="535.3" stroke="#000" stroke-width="1.3"/>
<text x="300.8" y="537.7" text-anchor="end" font-size="10.5">2</text>
<line x1="301.6" y1="500.5" x2="304.2" y2="500.5" stroke="#000" stroke-width="1.3"/>
<text x="300.8" y="502.9" text-anchor="end" font-size="10.5">3</text>
<line x1="301.6" y1="465.7" x2="304.2" y2="465.7" stroke="#000" stroke-width="1.3"/>
<text x="300.8" y="468.1" text-anchor="end" font-size="10.5">4</text>
<line x1="301.6" y1="430.9" x2="304.2" y2="430.9" stroke="#000" stroke-width="1.3"/>
<text x="300.8" y="433.3" text-anchor="end" font-size="10.5">5</text>
<line x1="302.7" y1="545.78" x2="304.2" y2="545.78" stroke="#000" stroke-width="0.8"/>
<line x1="302.7" y1="543.02" x2="304.2" y2="543.02" stroke="#000" stroke-width="0.8"/>
<line x1="302.7" y1="540.69" x2="304.2" y2="540.69" stroke="#000" stroke-width="0.8"/>
<line x1="302.7" y1="538.67" x2="304.2" y2="538.67" stroke="#000" stroke-width="0.8"/>
<line x1="302.7" y1="536.89" x2="304.2" y2="536.89" stroke="#000" stroke-width="0.8"/>
<line x1="302.7" y1="524.82" x2="304.2" y2="524.82" stroke="#000" stroke-width="0.8"/>
<line x1="302.7" y1="518.7" x2="304.2" y2="518.7" stroke="#000" stroke-width="0.8"/>
<line x1="302.7" y1="514.35" x2="304.2" y2="514.35" stroke="#000" stroke-width="0.8"/>
<line x1="302.7" y1="510.98" x2="304.2" y2="510.98" stroke="#000" stroke-width="0.8"/>
<line x1="302.7" y1="508.22" x2="304.2" y2="508.22" stroke="#000" stroke-width="0.8"/>
<line x1="302.7" y1="505.89" x2="304.2" y2="505.89" stroke="#000" stroke-width="0.8"/>
<line x1="302.7" y1="503.87" x2="304.2" y2="503.87" stroke="#000" stroke-width="0.8"/>
<line x1="302.7" y1="502.09" x2="304.2" y2="502.09" stroke="#000" stroke-width="0.8"/>
<line x1="302.7" y1="490.02" x2="304.2" y2="490.02" stroke="#000" stroke-width="0.8"/>
<line x1="302.7" y1="483.9" x2="304.2" y2="483.9" stroke="#000" stroke-width="0.8"/>
<line x1="302.7" y1="479.55" x2="304.2" y2="479.55" stroke="#000" stroke-width="0.8"/>
<line x1="302.7" y1="476.18" x2="304.2" y2="476.18" stroke="#000" stroke-width="0.8"/>
<line x1="302.7" y1="473.42" x2="304.2" y2="473.42" stroke="#000" stroke-width="0.8"/>
<line x1="302.7" y1="471.09" x2="304.2" y2="471.09" stroke="#000" stroke-width="0.8"/>
<line x1="302.7" y1="469.07" x2="304.2" y2="469.07" stroke="#000" stroke-width="0.8"/>
<line x1="302.7" y1="467.29" x2="304.2" y2="467.29" stroke="#000" stroke-width="0.8"/>
<line x1="302.7" y1="455.22" x2="304.2" y2="455.22" stroke="#000" stroke-width="0.8"/>
<line x1="302.7" y1="449.1" x2="304.2" y2="449.1" stroke="#000" stroke-width="0.8"/>
<line x1="302.7" y1="444.75" x2="304.2" y2="444.75" stroke="#000" stroke-width="0.8"/>
<line x1="302.7" y1="441.38" x2="304.2" y2="441.38" stroke="#000" stroke-width="0.8"/>
<line x1="302.7" y1="438.62" x2="304.2" y2="438.62" stroke="#000" stroke-width="0.8"/>
<line x1="302.7" y1="436.29" x2="304.2" y2="436.29" stroke="#000" stroke-width="0.8"/>
<line x1="302.7" y1="434.27" x2="304.2" y2="434.27" stroke="#000" stroke-width="0.8"/>
<line x1="302.7" y1="432.49" x2="304.2" y2="432.49" stroke="#000" stroke-width="0.8"/>
<line x1="302.7" y1="420.42" x2="304.2" y2="420.42" stroke="#000" stroke-width="0.8"/>
<line x1="302.7" y1="414.3" x2="304.2" y2="414.3" stroke="#000" stroke-width="0.8"/>
<line x1="302.7" y1="409.95" x2="304.2" y2="409.95" stroke="#000" stroke-width="0.8"/>
<line x1="302.7" y1="406.58" x2="304.2" y2="406.58" stroke="#000" stroke-width="0.8"/>
<line x1="302.7" y1="403.82" x2="304.2" y2="403.82" stroke="#000" stroke-width="0.8"/>
<line x1="319.8" y1="549.6" x2="319.8" y2="552.2" stroke="#000" stroke-width="1.2"/>
<line x1="337.75" y1="549.6" x2="337.75" y2="552.2" stroke="#000" stroke-width="1.2"/>
<line x1="355.7" y1="549.6" x2="355.7" y2="552.2" stroke="#000" stroke-width="1.2"/>
<line x1="373.65" y1="549.6" x2="373.65" y2="552.2" stroke="#000" stroke-width="1.2"/>
<line x1="391.6" y1="549.6" x2="391.6" y2="552.2" stroke="#000" stroke-width="1.2"/>
<line x1="409.55" y1="549.6" x2="409.55" y2="552.2" stroke="#000" stroke-width="1.2"/>
<line x1="427.5" y1="549.6" x2="427.5" y2="552.2" stroke="#000" stroke-width="1.2"/>
<line x1="445.45" y1="549.6" x2="445.45" y2="552.2" stroke="#000" stroke-width="1.2"/>
<line x1="463.4" y1="549.6" x2="463.4" y2="552.2" stroke="#000" stroke-width="1.2"/>
<line x1="481.35" y1="549.6" x2="481.35" y2="552.2" stroke="#000" stroke-width="1.2"/>
<line x1="499.3" y1="549.6" x2="499.3" y2="552.2" stroke="#000" stroke-width="1.2"/>
<text x="319.8" y="560.7" text-anchor="middle" font-size="9.6">0</text>
<text x="355.7" y="560.7" text-anchor="middle" font-size="9.6">2</text>
<text x="391.6" y="560.7" text-anchor="middle" font-size="9.6">4</text>
<text x="427.5" y="560.7" text-anchor="middle" font-size="9.6">6</text>
<text x="463.4" y="560.7" text-anchor="middle" font-size="9.6">8</text>
<text x="499.3" y="560.7" text-anchor="middle" font-size="9.6" textLength="10.25" lengthAdjust="spacingAndGlyphs">10</text>
<text x="344.3" y="569.6" font-size="11" textLength="134.5" lengthAdjust="spacingAndGlyphs">Nef 5+ percent of respons<tspan font-style="italic">e</tspan></text>
<g transform="translate(288.3,522.2) rotate(-90) scale(1,1)"><text x="0" y="0" font-size="11.6" textLength="20.2" lengthAdjust="spacingAndGlyphs">Log</text><text x="20.4" y="2.6" font-size="8.2" textLength="8.6" lengthAdjust="spacingAndGlyphs">10</text><text x="30.4" y="0" font-size="11.6" textLength="49.6" lengthAdjust="spacingAndGlyphs">Viral Load</text></g>
<text x="476" y="412" font-size="10.5"><tspan font-style="italic">P</tspan>&lt;.001</text>
<text x="275.2" y="413.8" font-size="26" font-weight="bold" class="lt">F</text>
</svg>
</body></html>
